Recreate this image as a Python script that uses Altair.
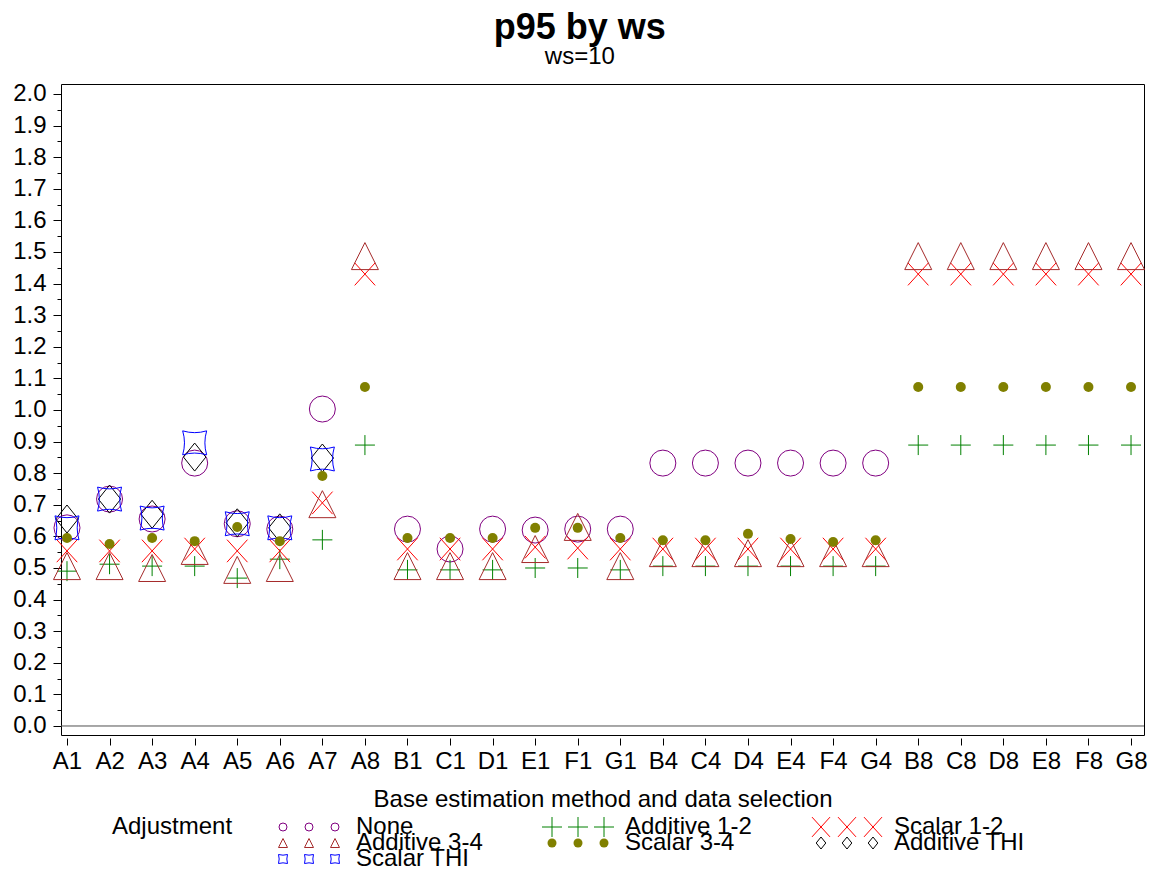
import altair as alt
import pandas as pd

# ---------------- data ----------------
categories = ["A1", "A2", "A3", "A4", "A5", "A6", "A7", "A8",
              "B1", "C1", "D1", "E1", "F1", "G1",
              "B4", "C4", "D4", "E4", "F4", "G4",
              "B8", "C8", "D8", "E8", "F8", "G8"]

adjustments = ["None", "Additive 1-2", "Scalar 1-2",
               "Additive 3-4", "Scalar 3-4", "Additive THI",
               "Scalar THI"]

N = None
val_none = [0.627, 0.718, 0.655, 0.832, 0.640, 0.623, 1.003, N,
            0.623, 0.560, 0.623, 0.620, 0.623, 0.623,
            0.832, 0.832, 0.832, 0.832, 0.832, 0.832,
            N, N, N, N, N, N]
val_add12 = [0.490, 0.512, 0.506, 0.506, 0.468, 0.528, 0.589, 0.889,
             0.494, 0.494, 0.494, 0.500, 0.500, 0.494,
             0.506, 0.506, 0.506, 0.506, 0.506, 0.506,
             0.889, 0.889, 0.889, 0.889, 0.889, 0.889]
val_sc12 = [0.554, 0.554, 0.554, 0.560, 0.554, 0.554, 0.706, 1.430,
            0.560, 0.560, 0.560, 0.566, 0.563, 0.560,
            0.560, 0.560, 0.560, 0.560, 0.560, 0.560,
            1.430, 1.430, 1.430, 1.430, 1.430, 1.430]
val_add34 = [0.506, 0.506, 0.500, 0.554, 0.494, 0.500, 0.702, 1.487,
             0.506, 0.506, 0.506, 0.560, 0.630, 0.506,
             0.547, 0.547, 0.547, 0.547, 0.547, 0.547,
             1.487, 1.487, 1.487, 1.487, 1.487, 1.487]
val_sc34 = [0.595, 0.576, 0.595, 0.585, 0.630, 0.585, 0.791, 1.073,
            0.595, 0.595, 0.595, 0.627, 0.627, 0.595,
            0.588, 0.588, 0.608, 0.592, 0.582, 0.588,
            1.073, 1.073, 1.073, 1.073, 1.073, 1.073]
val_addthi = [0.655, 0.718, 0.670, 0.851, 0.643, 0.627, 0.848, N,
              N, N, N, N, N, N,
              N, N, N, N, N, N,
              N, N, N, N, N, N]
val_scthi = [0.627, 0.718, 0.658, 0.896, 0.640, 0.627, 0.845, N,
             N, N, N, N, N, N,
             N, N, N, N, N, N,
             N, N, N, N, N, N]

y_ticks = [round(i * 0.05, 2) for i in range(41)]

# ---------------- styles ----------------
colors = ["#800080", "#008000", "#FF0000", "#A52A2A", "#808000", "#000000", "#0000FF"]
open_adj = ["None", "Additive 1-2", "Scalar 1-2", "Additive 3-4", "Additive THI", "Scalar THI"]
open_paths = [
    "circle",
    "M-1,0L1,0M0,-1L0,1",
    "M-1,-1.1L1,1.1M-1,1.1L1,-1.1",
    "M0,-1L1,1L-1,1Z",
    "M0,-1L0.8,0L0,1L-0.8,0Z",
    "M-1,-1Q0,-0.7,1,-1Q0.7,0,1,1Q0,0.7,-1,1Q-0.7,0,-1,-1Z",
]
plot_sizes = {"None": 676, "Additive 1-2": 400, "Scalar 1-2": 420,
              "Additive 3-4": 729, "Scalar 3-4": 100, "Additive THI": 784,
              "Scalar THI": 576}
legend_sizes = {"None": 64, "Additive 1-2": 400, "Scalar 1-2": 324,
                "Additive 3-4": 81, "Scalar 3-4": 81, "Additive THI": 144,
                "Scalar THI": 81}

FONT = "Liberation Sans"
W, H = 1083, 651

series = [val_none, val_add12, val_sc12, val_add34, val_sc34, val_addthi, val_scthi]
rows = []
for adj, vals in zip(adjustments, series):
    for cat, v in zip(categories, vals):
        if v is not None:
            rows.append({"cat": cat, "adj": adj, "value": v, "sz": plot_sizes[adj]})
df = pd.DataFrame(rows)

x_enc = alt.X("cat:N", sort=categories,
              scale=alt.Scale(type="point", padding=0.2228, align=0.316),
              axis=alt.Axis(title="Base estimation method and data selection",
                            labelAngle=0, labelFontSize=24, titleFontSize=24,
                            labelFont=FONT, titleFont=FONT, titleFontWeight="normal",
                            labelColor="#000", titleColor="#000", grid=False,
                            domain=False, tickSize=7, offset=3, tickColor="#000",
                            labelPadding=4, titlePadding=14))
y_enc = alt.Y("value:Q",
              scale=alt.Scale(domain=[-0.0285, 2.0316], nice=False, zero=False),
              axis=alt.Axis(title=None, values=y_ticks, domain=False, grid=False,
                            tickColor="#000", labelFontSize=24, labelFont=FONT,
                            labelColor="#000",
                            tickSize={"condition": {"test": "round(datum.value*20) % 2 == 0", "value": 8}, "value": 4},
                            labelExpr="round(datum.value*20) % 2 == 0 ? format(datum.value, '.1f') : ''",
                            labelPadding=7, labelFlush=False, labelOverlap=False))

color_scale = alt.Scale(domain=adjustments, range=colors)
shape_scale = alt.Scale(domain=open_adj, range=open_paths)

zero_df = pd.DataFrame({"value": [0.0]})
zero_rule = alt.Chart(zero_df).mark_rule(color="#505050", strokeWidth=1).encode(y=y_enc)

open_pts = alt.Chart(df).transform_filter(
    alt.datum.adj != "Scalar 3-4"
).mark_point(filled=False, strokeWidth=1, opacity=1).encode(
    x=x_enc, y=y_enc,
    color=alt.Color("adj:N", scale=color_scale, legend=None),
    shape=alt.Shape("adj:N", scale=shape_scale, legend=None),
    size=alt.Size("sz:Q", scale=None),
)
dots = alt.Chart(df).transform_filter(
    alt.datum.adj == "Scalar 3-4"
).mark_circle(opacity=1).encode(
    x=x_enc, y=y_enc,
    color=alt.Color("adj:N", scale=color_scale, legend=None),
    size=alt.Size("sz:Q", scale=None),
)

main = alt.layer(zero_rule, open_pts, dots).properties(width=W, height=H)

# ---------------- manual legend ----------------
LW, LH = W, 46
leg_rows = []
for i, adj in enumerate(adjustments):
    for rep in range(3):
        leg_rows.append({"adj": adj, "col": i % 3, "row": i // 3, "rep": rep,
                         "sz": legend_sizes[adj]})
leg_df = pd.DataFrame(leg_rows)
leg_text_df = pd.DataFrame({"adj": adjustments,
                            "col": [i % 3 for i in range(len(adjustments))],
                            "row": [i // 3 for i in range(len(adjustments))]})
leg_title_df = pd.DataFrame({"t": ["Adjustment"]})

X0, COLSTEP, REPSTEP, TXTOFF, ROWSTEP, Y0 = 222, 269, 26, 73, 16, 10

lx = alt.X("px:Q", scale=alt.Scale(domain=[0, LW], nice=False, zero=False), axis=None)
ly = alt.Y("py:Q", scale=alt.Scale(domain=[0, LH], nice=False, zero=False, reverse=True), axis=None)

leg_open = alt.Chart(leg_df).transform_filter(
    alt.datum.adj != "Scalar 3-4"
).transform_calculate(
    px=f"{X0} + datum.col*{COLSTEP} + datum.rep*{REPSTEP}",
    py=f"{Y0} + datum.row*{ROWSTEP}",
).mark_point(filled=False, strokeWidth=1, opacity=1).encode(
    x=lx, y=ly,
    color=alt.Color("adj:N", scale=color_scale, legend=None),
    shape=alt.Shape("adj:N", scale=shape_scale, legend=None),
    size=alt.Size("sz:Q", scale=None),
)
leg_dots = alt.Chart(leg_df).transform_filter(
    alt.datum.adj == "Scalar 3-4"
).transform_calculate(
    px=f"{X0} + datum.col*{COLSTEP} + datum.rep*{REPSTEP}",
    py=f"{Y0} + datum.row*{ROWSTEP}",
).mark_circle(opacity=1).encode(
    x=lx, y=ly,
    color=alt.Color("adj:N", scale=color_scale, legend=None),
    size=alt.Size("sz:Q", scale=None),
)
leg_text = alt.Chart(leg_text_df).transform_calculate(
    px=f"{X0} + datum.col*{COLSTEP} + {TXTOFF}",
    py=f"{Y0} + datum.row*{ROWSTEP}",
).mark_text(align="left", baseline="middle", fontSize=24, font=FONT, color="#000").encode(
    x=lx, y=ly, text="adj:N")
leg_title = alt.Chart(leg_title_df).transform_calculate(
    px="51", py=f"{Y0}",
).mark_text(align="left", baseline="middle", fontSize=24, font=FONT, color="#000").encode(
    x=lx, y=ly, text="t:N")

legend = alt.layer(leg_open, leg_dots, leg_text, leg_title).properties(
    width=LW, height=LH,
    view=alt.ViewBackground(stroke="transparent"),
)

chart = alt.vconcat(main, legend, spacing=2).properties(
    title=alt.TitleParams("p95 by ws", subtitle="ws=10", fontSize=36, fontWeight="bold",
                          font=FONT, subtitleFont=FONT, subtitleFontSize=24,
                          subtitleColor="#000", color="#000", anchor="middle",
                          subtitlePadding=-2, offset=11),
    padding={"left": 4, "top": 2, "right": 0, "bottom": 0},
).resolve_scale(color="shared", shape="shared").configure_view(stroke="#000", strokeWidth=1)

chart.save("out.html", embed_options={"renderer": "svg", "actions": False})
